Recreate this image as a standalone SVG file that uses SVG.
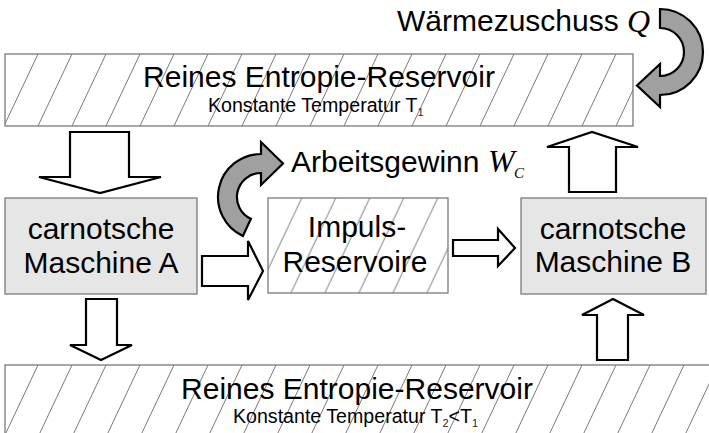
<svg xmlns="http://www.w3.org/2000/svg" width="709" height="433" viewBox="0 0 709 433">
  <defs>
    <!-- diagonal hatching for the reservoirs, one per box so the phase lines up;
         each tile repeats the stroke at ±34 so the tile corners join cleanly -->
    <pattern id="hatchTop" patternUnits="userSpaceOnUse" x="4" y="54" width="34" height="72">
      <path class="hatch" d="M -34,72 L 0,0 M 0,72 L 34,0 M 34,72 L 68,0"/>
    </pattern>
    <pattern id="hatchMid" patternUnits="userSpaceOnUse" x="29.7" y="198" width="34" height="72">
      <path class="hatch" d="M -34,72 L 0,0 M 0,72 L 34,0 M 34,72 L 68,0"/>
    </pattern>
    <pattern id="hatchBot" patternUnits="userSpaceOnUse" x="4" y="365" width="34" height="72">
      <path class="hatch" d="M -34,72 L 0,0 M 0,72 L 34,0 M 34,72 L 68,0"/>
    </pattern>
    <style>
      .hatch { fill: none; stroke: #6a6a6a; stroke-width: 0.9; }
      .reservoir { stroke: #7a7a7a; stroke-width: 1.3; }
      .machine { fill: #e6e6e6; stroke: #7a7a7a; stroke-width: 1.3; }
      .block { fill: #ffffff; stroke: #000000; stroke-width: 2.2; stroke-linejoin: miter; }
      .curved { fill: #a0a0a0; stroke: #000000; stroke-width: 2.2; stroke-linejoin: miter; }
      .big { font-family: "Liberation Sans", Arial, sans-serif; font-size: 30px; fill: #000; }
      .small { font-family: "Liberation Sans", Arial, sans-serif; font-size: 19.6px; fill: #000; }
      .sub { font-family: "Liberation Sans", Arial, sans-serif; font-size: 11px; fill: #222; }
      .sym { font-family: "Liberation Serif", "Times New Roman", serif; font-style: italic; font-size: 32px; fill: #000; }
      .symsub { font-family: "Liberation Serif", "Times New Roman", serif; font-style: italic; font-size: 15px; fill: #000; }
    </style>
  </defs>

  <rect width="709" height="433" fill="#ffffff"/>

  <!-- upper entropy reservoir -->
  <g id="reservoir-t1">
    <rect x="5" y="54" width="628" height="72" fill="#ffffff"/>
    <rect x="5" y="54" width="628" height="72" fill="url(#hatchTop)" class="reservoir"/>
    <text class="big" x="319" y="87" text-anchor="middle">Reines Entropie-Reservoir</text>
    <text class="small" x="208" y="112">Konstante Temperatur T<tspan class="sub" dy="3.5">1</tspan></text>
  </g>

  <!-- momentum reservoir -->
  <g id="impuls-reservoir">
    <rect x="268" y="198" width="180" height="95" fill="#ffffff"/>
    <rect x="268" y="198" width="180" height="95" fill="url(#hatchMid)" class="reservoir"/>
    <text class="big" x="357" y="237" text-anchor="middle">Impuls-</text>
    <text class="big" x="355" y="272" text-anchor="middle">Reservoire</text>
  </g>

  <!-- Carnot engine A -->
  <g id="maschine-a">
    <rect x="5" y="198" width="192" height="96" class="machine"/>
    <text class="big" x="101" y="239" text-anchor="middle">carnotsche</text>
    <text class="big" x="101" y="273" text-anchor="middle">Maschine A</text>
  </g>

  <!-- Carnot engine B -->
  <g id="maschine-b">
    <rect x="521" y="198" width="185" height="96" class="machine"/>
    <text class="big" x="613" y="239" text-anchor="middle">carnotsche</text>
    <text class="big" x="613" y="272" text-anchor="middle">Maschine B</text>
  </g>

  <!-- lower entropy reservoir -->
  <g id="reservoir-t2">
    <rect x="5" y="365" width="720" height="80" fill="#ffffff"/>
    <rect x="5" y="365" width="720" height="80" fill="url(#hatchBot)" class="reservoir"/>
    <text class="big" x="357" y="399" text-anchor="middle">Reines Entropie-Reservoir</text>
    <text class="small" x="233" y="423">Konstante Temperatur T<tspan class="sub" dy="3.5">2</tspan><tspan dy="-3.5">&lt;T</tspan><tspan class="sub" dy="3.5">1</tspan></text>
  </g>

  <!-- heat input -->
  <g id="waermezuschuss">
    <path class="curved" d="M 660,9 A 43 43 0 0 1 660,95 L 660,107 L 637,85.5 L 660,64 L 660,76 A 24 24 0 0 0 660,28 Z"/>
    <text class="big" x="397" y="31">Wärmezuschuss</text>
    <text class="sym" x="627" y="32">Q</text>
  </g>

  <!-- work output -->
  <g id="arbeitsgewinn">
    <path class="curved" d="M 242.9,236 A 43 43 0 0 1 261,154 L 261,142 L 283,163.5 L 261,185 L 261,173 A 24 24 0 0 0 250.9,218.8 Z"/>
    <text class="big" x="291" y="172">Arbeitsgewinn</text>
    <text class="sym" x="488" y="172">W</text>
    <text class="symsub" x="514" y="178">C</text>
  </g>

  <!-- flow arrows -->
  <g id="connectors">
    <polygon class="block" points="70,132 129,132 129,177 161,177 100,193 39,177 70,177"/>
    <polygon class="block" points="86,299 117,299 117,345 132,345 101,360 70,345 86,345"/>
    <polygon class="block" points="202,256 248,256 248,241 263,271 248,300 248,286 202,286"/>
    <polygon class="block" points="453,240 498,240 498,229 515,248 498,266 498,256 453,256"/>
    <polygon class="block" points="569,192 569,147 547,147 592,132 638,147 616,147 616,192"/>
    <polygon class="block" points="597,360 597,315 582,315 613,299 644,315 628,315 628,360"/>
  </g>
</svg>
